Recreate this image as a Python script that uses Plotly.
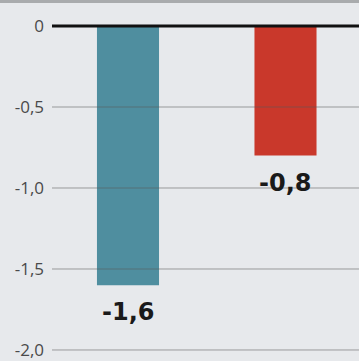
import plotly.graph_objects as go

categories = ["A", "B"]
values = [-1.6, -0.8]
value_labels = ["-1,6", "-0,8"]
bar_colors = ["#4f8e9f", "#c9382b"]
tick_vals = [0, -0.5, -1.0, -1.5, -2.0]
tick_text = ["0", "-0,5", "-1,0", "-1,5", "-2,0"]

xpos = list(range(len(categories)))

fig = go.Figure()
fig.add_trace(go.Bar(
    x=xpos, y=values, marker=dict(color=bar_colors, line=dict(width=0)),
    width=0.394, hoverinfo="skip",
))

for x, v, t in zip(xpos, values, value_labels):
    fig.add_annotation(
        x=x, y=v, text="<b>%s</b>" % t, showarrow=False,
        yanchor="top", yshift=-11,
        font=dict(family="DejaVu Sans", size=24, color="#1a1a1a"),
    )

for tv in tick_vals:
    if tv == 0:
        continue
    fig.add_shape(type="line", xref="paper", x0=0, x1=1, y0=tv, y1=tv,
                  line=dict(color="rgba(90,90,90,0.55)", width=1), layer="above")
fig.add_shape(type="line", xref="paper", x0=0, x1=1, y0=0, y1=0,
              line=dict(color="#111111", width=3), layer="above")

fig.update_layout(
    width=359, height=361,
    margin=dict(l=52, r=0, t=0, b=0),
    paper_bgcolor="#e7e9ec", plot_bgcolor="#e7e9ec",
    showlegend=False,
    xaxis=dict(range=[-0.4825, 1.4667], showticklabels=False, showgrid=False,
               zeroline=False, fixedrange=True),
    yaxis=dict(range=[-2.068, 0.1605], tickvals=tick_vals, ticktext=tick_text,
               showgrid=False, zeroline=False, ticks="", ticklabelstandoff=7,
               tickfont=dict(family="Open Sans", size=17, color="#4a4a4a")),
)
fig.add_shape(type="rect", xref="paper", yref="paper", x0=-0.2, x1=1.0, y0=1 - 3 / 361, y1=1.0,
              line=dict(width=0), fillcolor="#a9abad", layer="above")

fig.write_html("out.html")
